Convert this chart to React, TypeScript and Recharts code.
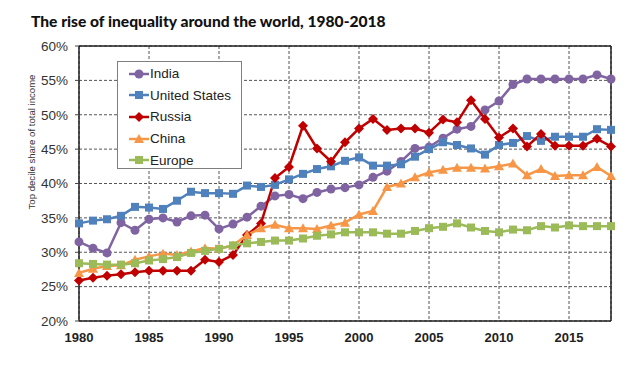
import React from 'react';
import {
  LineChart,
  Line,
  XAxis,
  YAxis,
  CartesianGrid,
  ReferenceLine,
} from 'recharts';

// values (top decile share, %)
const years = [
  1980, 1981, 1982, 1983, 1984, 1985, 1986, 1987, 1988, 1989,
  1990, 1991, 1992, 1993, 1994, 1995, 1996, 1997, 1998, 1999,
  2000, 2001, 2002, 2003, 2004, 2005, 2006, 2007, 2008, 2009,
  2010, 2011, 2012, 2013, 2014, 2015, 2016, 2017, 2018,
];

const india = [
  31.5, 30.6, 29.9, 34.3, 33.2, 34.8, 35.0, 34.4, 35.3, 35.4,
  33.4, 34.1, 35.1, 36.7, 38.2, 38.4, 37.8, 38.7, 39.2, 39.4,
  39.8, 40.9, 41.8, 43.2, 45.1, 45.3, 46.6, 47.9, 48.3, 50.7,
  52.0, 54.4, 55.2, 55.2, 55.2, 55.2, 55.2, 55.8, 55.2,
];

const unitedStates = [
  34.2, 34.6, 34.8, 35.3, 36.6, 36.5, 36.3, 37.5, 38.8, 38.6,
  38.6, 38.5, 39.7, 39.5, 39.8, 40.6, 41.4, 42.1, 42.5, 43.3,
  43.8, 42.6, 42.6, 42.8, 43.9, 45.0, 46.0, 45.6, 45.1, 44.2,
  45.6, 45.9, 46.9, 46.2, 46.8, 46.8, 46.8, 47.9, 47.8,
];

const russia = [
  25.9, 26.3, 26.6, 26.8, 27.1, 27.3, 27.3, 27.3, 27.3, 28.9,
  28.6, 29.6, 32.5, 34.2, 40.8, 42.4, 48.4, 45.1, 43.2, 46.0,
  48.0, 49.4, 47.8, 48.0, 48.0, 47.4, 49.3, 48.9, 52.1, 49.4,
  46.7, 48.0, 45.4, 47.2, 45.5, 45.5, 45.5, 46.5, 45.4,
];

const china = [
  27.0, 27.6, 28.0, 28.1, 28.9, 29.4, 29.8, 29.6, 30.1, 30.6,
  30.5, 31.0, 32.5, 33.5, 34.0, 33.5, 33.5, 33.4, 33.9, 34.3,
  35.5, 36.0, 39.5, 40.0, 40.9, 41.6, 42.0, 42.3, 42.3, 42.2,
  42.5, 42.9, 41.2, 42.1, 41.1, 41.2, 41.2, 42.4, 41.1,
];

const europe = [
  28.4, 28.3, 28.2, 28.2, 28.4, 28.8, 29.0, 29.3, 29.9, 30.2,
  30.5, 31.0, 31.3, 31.5, 31.7, 31.7, 32.0, 32.4, 32.6, 32.9,
  32.9, 32.9, 32.7, 32.7, 33.1, 33.5, 33.7, 34.2, 33.6, 33.1,
  32.9, 33.3, 33.2, 33.8, 33.6, 33.9, 33.8, 33.8, 33.8,
];

const xTicks = [1980, 1985, 1990, 1995, 2000, 2005, 2010, 2015];
const yTicks = [20, 25, 30, 35, 40, 45, 50, 55, 60];

const data = years.map((year, i) => ({
  year,
  india: india[i],
  unitedStates: unitedStates[i],
  russia: russia[i],
  china: china[i],
  europe: europe[i],
}));

type Shape = 'circle' | 'square' | 'diamond' | 'triangle';

const series: { key: string; name: string; color: string; shape: Shape }[] = [
  { key: 'india', name: 'India', color: '#8064A2', shape: 'circle' },
  { key: 'unitedStates', name: 'United States', color: '#4F81BD', shape: 'square' },
  { key: 'russia', name: 'Russia', color: '#C00000', shape: 'diamond' },
  { key: 'china', name: 'China', color: '#F79646', shape: 'triangle' },
  { key: 'europe', name: 'Europe', color: '#9BBB59', shape: 'square' },
];

function marker(shape: Shape, cx: number, cy: number, color: string, key?: React.Key) {
  if (shape === 'circle') return <circle key={key} cx={cx} cy={cy} r={4.5} fill={color} />;
  if (shape === 'square')
    return <rect key={key} x={cx - 4} y={cy - 4} width={8} height={8} fill={color} />;
  if (shape === 'diamond')
    return (
      <polygon
        key={key}
        points={`${cx},${cy - 5} ${cx + 5},${cy} ${cx},${cy + 5} ${cx - 5},${cy}`}
        fill={color}
      />
    );
  return (
    <polygon
      key={key}
      points={`${cx},${cy - 5} ${cx + 5},${cy + 4} ${cx - 5},${cy + 4}`}
      fill={color}
    />
  );
}

const dotFor = (shape: Shape, color: string) => (props: any) => {
  const { cx, cy, index } = props;
  if (cx == null || cy == null) return <g key={index} />;
  return marker(shape, cx, cy, color, index);
};

function LegendBox() {
  return (
    <div
      style={{
        position: 'absolute',
        left: 117,
        top: 61,
        width: 125,
        height: 108,
        boxSizing: 'border-box',
        border: '1px solid #7f7f7f',
        background: '#fff',
        paddingTop: 1,
      }}
    >
      {series.map(s => (
        <div key={s.key} style={{ display: 'flex', alignItems: 'center', height: 21.6 }}>
          <svg width={20} height={12} style={{ marginLeft: 11 }}>
            <line x1={0} y1={6} x2={20} y2={6} stroke={s.color} strokeWidth={2.5} />
            {marker(s.shape, 10, 6, s.color)}
          </svg>
          <span style={{ fontSize: 13.5, color: '#222', marginLeft: 1 }}>{s.name}</span>
        </div>
      ))}
    </div>
  );
}

export default function App() {
  return (
    <div
      style={{
        position: 'absolute',
        left: 0,
        top: 0,
        width: 640,
        height: 365,
        background: '#fff',
        fontFamily: '"Liberation Sans", Arial, sans-serif',
      }}
    >
      <div
        style={{
          position: 'absolute',
          left: 31,
          top: 12,
          fontFamily: 'Lato, sans-serif',
          fontWeight: 900,
          fontSize: 15.6,
          color: '#111',
          whiteSpace: 'nowrap',
        }}
      >
        The rise of inequality around the world, 1980-2018
      </div>
      <div
        style={{
          position: 'absolute',
          left: 31,
          top: 142,
          transform: 'translate(-50%, -50%) rotate(-90deg)',
          fontSize: 9.6,
          color: '#333',
          whiteSpace: 'nowrap',
        }}
      >
        Top decile share of total income
      </div>
      <LineChart
        width={640}
        height={365}
        data={data}
        margin={{ top: 46, right: 29, left: 29, bottom: 14 }}
      >
        <CartesianGrid stroke="#555" strokeDasharray="3 2" strokeWidth={1} />
        <XAxis
          dataKey="year"
          type="number"
          domain={[1980, 2018]}
          ticks={xTicks}
          height={30}
          tickLine={false}
          axisLine={{ stroke: '#222', strokeWidth: 1.5 }}
          tick={{ fill: '#222', fontSize: 13, fontWeight: 700, dy: 4 }}
        />
        <YAxis
          domain={[20, 60]}
          ticks={yTicks}
          width={50}
          tickFormatter={v => `${v}%`}
          tickSize={4}
          tickMargin={7}
          tickLine={{ stroke: '#444' }}
          axisLine={{ stroke: '#222', strokeWidth: 1.5 }}
          tick={{ fill: '#333', fontSize: 13.5 }}
        />
        <ReferenceLine y={60} stroke="#222" strokeWidth={1.5} />
        <ReferenceLine x={2018} stroke="#222" strokeWidth={1.5} />
        {series.map(s => (
          <Line
            key={s.key}
            dataKey={s.key}
            name={s.name}
            type="linear"
            stroke={s.color}
            strokeWidth={2.5}
            dot={dotFor(s.shape, s.color)}
            activeDot={false}
            isAnimationActive={false}
          />
        ))}
      </LineChart>
      <LegendBox />
    </div>
  );
}
